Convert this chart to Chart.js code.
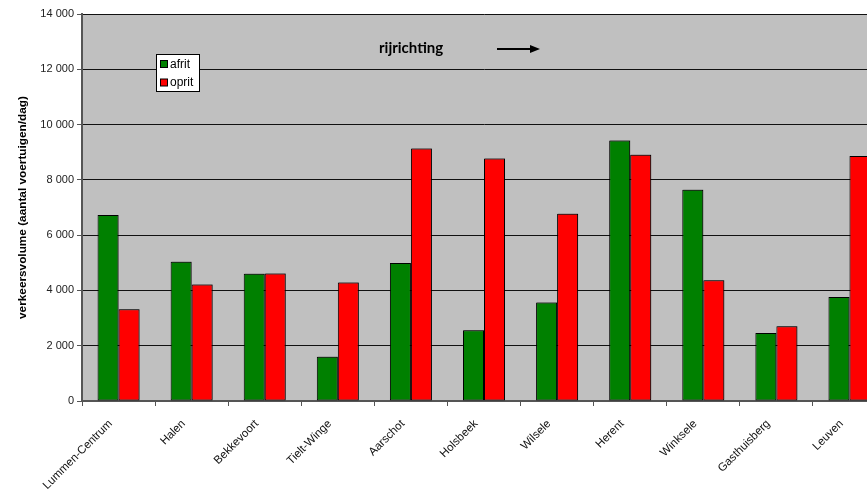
<!DOCTYPE html>
<html>
<head>
<meta charset="utf-8">
<script src="https://cdn.jsdelivr.net/npm/chart.js@4/dist/chart.umd.min.js"></script>
<style>
  html, body { margin: 0; padding: 0; background: #fff; overflow: hidden; }
  #wrap { width: 867px; height: 491px; overflow: hidden; position: relative; }
  #box { width: 886px; height: 491px; position: absolute; left: 0; top: 0; }
</style>
</head>
<body>
<div id="wrap"><div id="box"><canvas id="chartVerkeer"></canvas></div></div>
<script>
// data
const plaatsen = ['Lummen-Centrum', 'Halen', 'Bekkevoort', 'Tielt-Winge', 'Aarschot', 'Holsbeek',
    'Wilsele', 'Herent', 'Winksele', 'Gasthuisberg', 'Leuven'];
const afrit = [6730, 5040, 4600, 1600, 4990, 2560, 3560, 9420, 7640, 2460, 3760];
const oprit = [3320, 4215, 4610, 4290, 9130, 8770, 6770, 8910, 4370, 2700, 8860];
const yTicks = [0, 2000, 4000, 6000, 8000, 10000, 12000, 14000];

const fmt = v => String(v).replace(/\B(?=(\d{3})+(?!\d))/g, ' ');

// grijze achtergrond van het plotvlak
const plotBg = {
    id: 'plotBg',
    beforeDraw(chart) {
        const { ctx, chartArea: a } = chart;
        ctx.save();
        ctx.fillStyle = '#c0c0c0';
        ctx.fillRect(a.left, a.top, a.right - a.left, a.bottom - a.top);
        ctx.restore();
    }
};

// schaduw onder de balken
const barShadow = {
    id: 'barShadow',
    beforeDatasetsDraw(chart) {
        const ctx = chart.ctx;
        ctx.save();
        ctx.shadowColor = 'rgba(0,0,0,0.35)';
        ctx.shadowOffsetX = 1;
        ctx.shadowOffsetY = -1;
        ctx.shadowBlur = 0;
    },
    afterDatasetsDraw(chart) {
        chart.ctx.restore();
    }
};

// legenda in het plotvlak + tekst "rijrichting" met pijl
const extras = {
    id: 'extras',
    afterDraw(chart) {
        const { ctx, chartArea: a } = chart;
        ctx.save();
        const lx = a.left + 74, ly = a.top + 40;
        ctx.fillStyle = '#fff';
        ctx.fillRect(lx, ly, 43, 37);
        ctx.strokeStyle = '#000';
        ctx.lineWidth = 1;
        ctx.strokeRect(lx + 0.5, ly + 0.5, 43, 37);
        ctx.font = '12px "Liberation Sans", Arial, sans-serif';
        ctx.textBaseline = 'middle';
        chart.data.datasets.forEach((ds, i) => {
            const y = ly + 10 + i * 18.5;
            ctx.fillStyle = ds.backgroundColor;
            ctx.fillRect(lx + 4.5, y - 3.5, 7, 7);
            ctx.strokeRect(lx + 4.5, y - 3.5, 7, 7);
            ctx.fillStyle = '#000';
            ctx.fillText(ds.label, lx + 14, y + 0.5);
        });

        ctx.font = 'bold 15px Lato, "Open Sans", sans-serif';
        ctx.fillStyle = '#000';
        ctx.textBaseline = 'middle';
        ctx.fillText('rijrichting', 379, 48);
        ctx.lineWidth = 2;
        ctx.beginPath();
        ctx.moveTo(497, 49);
        ctx.lineTo(532, 49);
        ctx.stroke();
        ctx.beginPath();
        ctx.moveTo(540, 49);
        ctx.lineTo(530, 45);
        ctx.lineTo(530, 53);
        ctx.closePath();
        ctx.fill();
        ctx.restore();
    }
};

const ctxV = document.getElementById('chartVerkeer');
new Chart(ctxV, {
    type: 'bar',
    data: {
        labels: plaatsen,
        datasets: [{
            label: 'afrit',
            data: afrit,
            backgroundColor: '#008000',
            borderColor: '#000',
            borderWidth: 1,
            borderSkipped: false
        }, {
            label: 'oprit',
            data: oprit,
            backgroundColor: '#ff0000',
            borderColor: '#000',
            borderWidth: 1,
            borderSkipped: false
        }]
    },
    options: {
        responsive: true,
        maintainAspectRatio: false,
        animation: false,
        layout: { padding: { top: 14, right: 0, left: 0, bottom: 0 } },
        datasets: { bar: { categoryPercentage: 0.575, barPercentage: 1 } },
        plugins: { legend: { display: false }, tooltip: { enabled: false } },
        scales: {
            x: {
                grid: { drawOnChartArea: false, drawTicks: true, tickLength: 5, tickColor: '#555' },
                border: { color: '#555', width: 2 },
                ticks: {
                    autoSkip: false,
                    minRotation: 45,
                    maxRotation: 45,
                    color: '#111',
                    padding: 11,
                    labelOffset: -8,
                    font: { family: '"Liberation Sans", Arial, sans-serif', size: 11.5 }
                },
                afterFit: s => { s.height = 90; }
            },
            y: {
                min: 0,
                max: 14000,
                afterBuildTicks: s => { s.ticks = yTicks.map(v => ({ value: v })); },
                grid: { color: '#111', lineWidth: 1, tickLength: 5, tickColor: '#555' },
                border: { color: '#555', width: 2 },
                ticks: {
                    color: '#222',
                    padding: 3,
                    font: { family: '"Liberation Sans", Arial, sans-serif', size: 11 },
                    callback: v => fmt(v)
                },
                title: {
                    display: true,
                    text: 'verkeersvolume (aantal voertuigen/dag)',
                    color: '#000',
                    font: { family: '"Liberation Sans", Arial, sans-serif', size: 11.8, weight: 'bold' },
                    padding: { top: 16, bottom: 0 }
                },
                afterFit: s => { s.width = 82; }
            }
        }
    },
    plugins: [plotBg, barShadow, extras]
});
</script>
</body>
</html>
